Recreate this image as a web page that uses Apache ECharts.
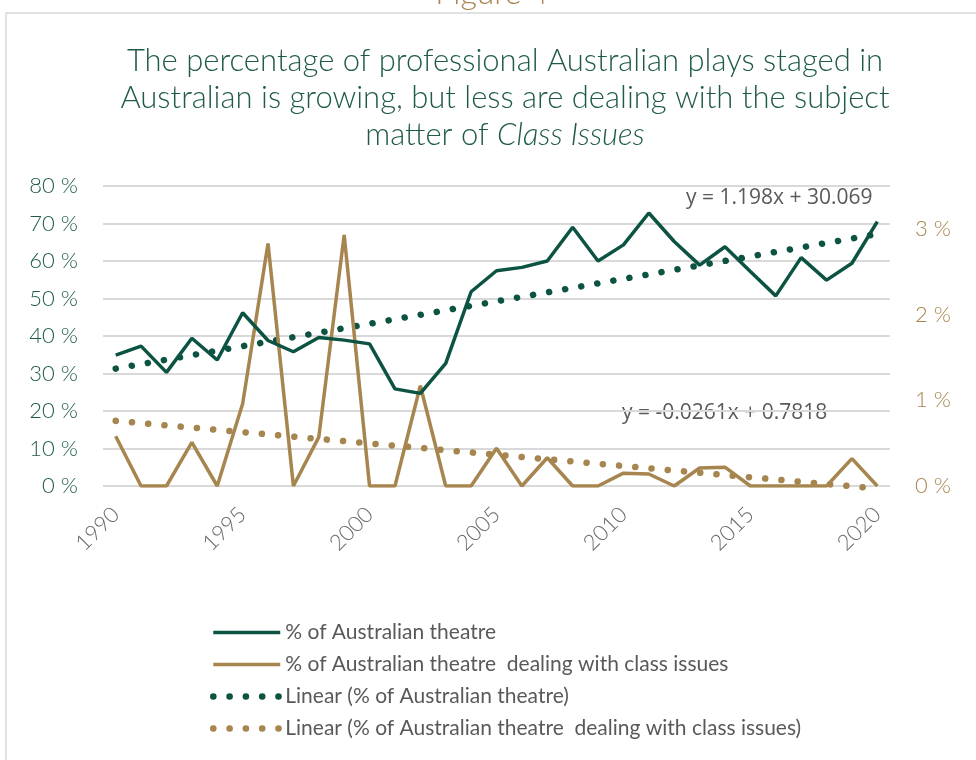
<!DOCTYPE html>
<html>
<head>
<meta charset="utf-8">
<script src="https://cdn.jsdelivr.net/npm/echarts@6/dist/echarts.min.js"></script>
<style>
  html, body { margin: 0; padding: 0; background: #fff; }
  #chart { width: 976px; height: 760px; }
</style>
</head>
<body>
<div id="chart"></div>
<script>
// years on the x axis
const years = ['1990', '1991', '1992', '1993', '1994', '1995', '1996', '1997', '1998', '1999',
  '2000', '2001', '2002', '2003', '2004', '2005', '2006', '2007', '2008', '2009',
  '2010', '2011', '2012', '2013', '2014', '2015', '2016', '2017', '2018', '2019', '2020'];

// % of Australian theatre (left axis)
const australian = [34.9, 37.3, 30.3, 39.4, 33.6, 46.2, 38.8, 35.8, 39.6, 38.9,
  37.9, 25.9, 24.7, 32.7, 51.8, 57.4, 58.3, 60.0, 69.0, 60.0,
  64.3, 72.8, 65.2, 58.9, 63.8, 57.2, 50.7, 60.9, 54.9, 59.4, 70.5];

// % of Australian theatre dealing with class issues (right axis)
const classIssues = [0.58, 0, 0, 0.51, 0, 0.96, 2.83, 0, 0.57, 2.93,
  0, 0, 1.17, 0, 0, 0.44, 0, 0.33, 0, 0,
  0.15, 0.14, 0, 0.21, 0.22, 0, 0, 0, 0, 0.32, 0];

// trend lines, end points
const trendYears = ['1990', '2020'];
const trendAustralian = [31.3, 67.2];
const trendClass = [0.76, -0.03];

const leftTicks = { min: 0, max: 80, interval: 10 };
const rightTicks = { min: 0, max: 3.5, interval: 1 };

const GREEN = '#0d5343';
const BROWN = '#a6854f';
const GREY = '#595959';
const dots = [0.1, 16.2];

const names = [
  '% of Australian theatre',
  '% of Australian theatre  dealing with class issues',
  'Linear (% of Australian theatre)',
  'Linear (% of Australian theatre  dealing with class issues)'
];

const chart = echarts.init(document.getElementById('chart'));

chart.setOption({
  animation: false,
  textStyle: { fontFamily: 'Lato' },
  title: {
    text: 'The percentage of professional Australian plays staged in\nAustralian is growing, but less are dealing with the subject\nmatter of {i|Class Issues}',
    left: 500,
    textAlign: 'center',
    top: 37,
    textStyle: {
      fontFamily: 'Lato',
      fontSize: 31,
      fontWeight: 300,
      color: '#1f5a4a',
      lineHeight: 37,
      rich: {
        i: { fontFamily: 'Lato', fontStyle: 'italic', fontWeight: 300, fontSize: 31, color: '#1f5a4a', lineHeight: 37 }
      }
    }
  },
  graphic: [
    {
      type: 'rect',
      shape: { x: 6, y: 13, width: 990, height: 770 },
      style: { fill: 'none', stroke: '#d9d9d9', lineWidth: 1.5 },
      silent: true
    },
    {
      type: 'text',
      x: 492, y: -22,
      style: { text: 'Figure 4', align: 'center', verticalAlign: 'top', fill: BROWN, font: '300 32px Lato' }
    },
    {
      type: 'text',
      x: 686, y: 198,
      style: { text: 'y = 1.198x + 30.069', fill: GREY, font: '21px "Open Sans"', verticalAlign: 'middle' }
    },
    {
      type: 'text',
      x: 622, y: 413,
      style: { text: 'y = -0.0261x + 0.7818', fill: GREY, font: '21px "Open Sans"', verticalAlign: 'middle' }
    }
  ],
  legend: {
    orient: 'vertical',
    left: 210,
    top: 622,
    padding: 0,
    itemWidth: 67,
    itemHeight: 20,
    itemGap: 11,
    itemStyle: { opacity: 0 },
    textStyle: { color: GREY, fontSize: 21, fontFamily: 'Lato', fontWeight: 'normal' },
    data: [
      { name: names[0], lineStyle: { width: 3.5, type: 'solid' } },
      { name: names[1], lineStyle: { width: 3.5, type: 'solid' } },
      { name: names[2], lineStyle: { width: 6.5, type: dots, cap: 'round' } },
      { name: names[3], lineStyle: { width: 6.5, type: dots, cap: 'round' } }
    ]
  },
  grid: { left: 103, right: 86, top: 186, bottom: 274 },
  xAxis: {
    type: 'category',
    data: years,
    boundaryGap: true,
    axisLine: { show: false },
    axisTick: { show: false },
    axisLabel: { interval: 4, rotate: 45, color: '#6b6b6b', fontSize: 22, fontWeight: 300, margin: 25 }
  },
  yAxis: [
    {
      type: 'value',
      min: leftTicks.min,
      max: leftTicks.max,
      interval: leftTicks.interval,
      axisLine: { show: false },
      axisTick: { show: false },
      axisLabel: { formatter: '{value} %', color: '#1e5b4c', fontSize: 22, fontWeight: 300, margin: 25 },
      splitLine: { lineStyle: { color: '#d9d9d9', width: 2 } }
    },
    {
      type: 'value',
      min: rightTicks.min,
      max: rightTicks.max,
      interval: rightTicks.interval,
      axisLine: { show: false },
      axisTick: { show: false },
      axisLabel: { formatter: '{value} %', color: BROWN, fontSize: 22, fontWeight: 300, margin: 25, showMaxLabel: false },
      splitLine: { show: false }
    }
  ],
  series: [
    {
      name: names[0],
      type: 'line',
      data: australian,
      yAxisIndex: 0,
      symbol: 'none',
      z: 4,
      lineStyle: { color: GREEN, width: 3.5 },
      itemStyle: { color: GREEN }
    },
    {
      name: names[1],
      type: 'line',
      data: classIssues,
      yAxisIndex: 1,
      symbol: 'none',
      z: 3,
      lineStyle: { color: BROWN, width: 3.5 },
      itemStyle: { color: BROWN }
    },
    {
      name: names[2],
      type: 'line',
      data: trendYears.map((y, i) => [y, trendAustralian[i]]),
      yAxisIndex: 0,
      symbol: 'none',
      z: 2,
      lineStyle: { color: GREEN, width: 6.5, type: dots, cap: 'round' },
      itemStyle: { color: GREEN }
    },
    {
      name: names[3],
      type: 'line',
      data: trendYears.map((y, i) => [y, trendClass[i]]),
      yAxisIndex: 1,
      symbol: 'none',
      z: 2,
      clip: false,
      lineStyle: { color: BROWN, width: 6.5, type: dots, cap: 'round' },
      itemStyle: { color: BROWN }
    }
  ]
});
</script>
</body>
</html>
